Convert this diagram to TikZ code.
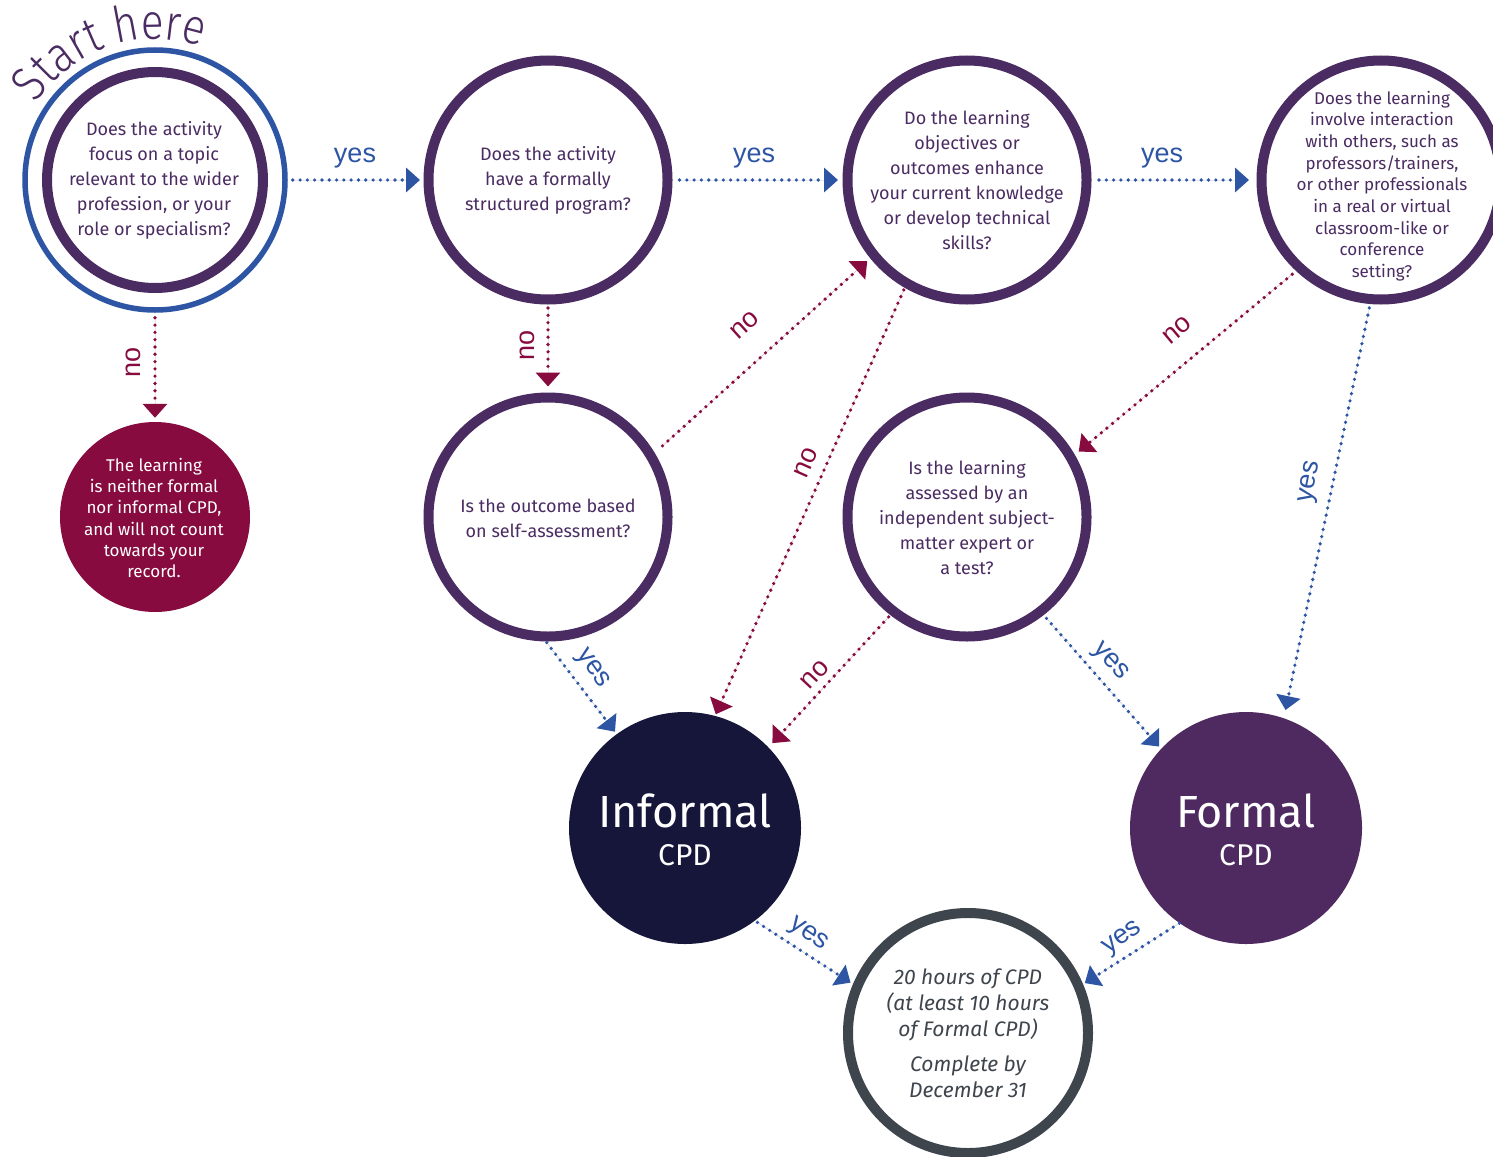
\documentclass[tikz,border=0pt]{standalone}
\usepackage{fontspec}
\setmainfont{Fira Sans}
\newfontfamily\lblfont{Liberation Sans}
\newfontfamily\shfont{Fira Sans Light}[FakeStretch=0.85]
\usetikzlibrary{arrows.meta,decorations.text}
\definecolor{ringc}{HTML}{4B2C62}
\definecolor{bluec}{HTML}{2D55A4}
\definecolor{magc}{HTML}{870B3F}
\definecolor{navyc}{HTML}{15163A}
\definecolor{formc}{HTML}{4E2A61}
\definecolor{grayc}{HTML}{3E454D}
\newcommand\shsize{\shfont\fontsize{50}{50}\selectfont}
\tikzset{
  qc/.style={circle, draw=ringc, line width=10pt, minimum size=239pt, inner sep=0pt},
  qt/.style={text=ringc, align=center, inner sep=0pt, font=\fontsize{18}{25}\selectfont},
  conn/.style={line width=3.6pt, line cap=round, dash pattern=on 0pt off 7.3pt,
               -{Triangle[length=14pt,width=24pt]}},
  yesc/.style={conn, draw=bluec, fill=bluec},
  noc/.style={conn, draw=magc, fill=magc},
  yesl/.style={text=bluec, font=\lblfont\fontsize{27}{27}\selectfont, inner sep=0pt},
  nol/.style={yesl, text=magc},
  bigt/.style={text=white, inner sep=0pt, font=\fontsize{45}{45}\selectfont},
  cpdt/.style={text=white, inner sep=0pt, font=\fontsize{30}{30}\selectfont},
}
\begin{document}
\begin{tikzpicture}[x=1pt,y=-1pt]
\useasboundingbox (0,0) rectangle (1493,1156);
\fill[white] (0,0) rectangle (1493,1156);

% question circles
\node[circle, draw=bluec, line width=5.5pt, minimum size=260pt, inner sep=0pt] (A) at (155,180) {};
\node[qc, minimum size=216pt] (Ain) at (155,180) {};
\node[qc] (B) at (548,180) {};
\node[qc] (C) at (967,180) {};
\node[qc] (D) at (1381,180) {};
\node[qc] (E) at (548,517) {};
\node[qc] (F) at (967,517) {};
\node[circle, fill=magc, minimum size=190pt, inner sep=0pt] (G) at (155,517) {};
\node[circle, fill=navyc, minimum size=232pt, inner sep=0pt] (Inf) at (685,828) {};
\node[circle, fill=formc, minimum size=232pt, inner sep=0pt] (For) at (1246,828) {};
\node[circle, draw=grayc, line width=10pt, minimum size=240pt, inner sep=0pt] (Fin) at (968,1033) {};

% texts
\node[qt] (At) at (154,180) {Does the activity\\focus on a topic\\relevant to the wider\\profession, or your\\role or specialism?};
\node[qt] (Bt) at (548,180) {Does the activity\\have a formally\\structured program?};
\node[qt] (Ct) at (967,180) {Do the learning\\objectives or\\outcomes enhance\\your current knowledge\\or develop technical\\skills?};
\node[qt, font=\fontsize{17}{21.7}\selectfont] (Dt) at (1382,186) {Does the learning\\involve interaction\\with others, such as\\professors/trainers,\\or other professionals\\in a real or virtual\\classroom-like or\\conference\\setting?};
\node[qt] (Et) at (548,518) {Is the outcome based\\on self-assessment?};
\node[qt] (Ft) at (967,518) {Is the learning\\assessed by an\\independent subject-\\matter expert or\\a test?};
\node[qt, text=white, font=\fontsize{17}{21.2}\selectfont] (Gt) at (154,518) {The learning\\is neither formal\\nor informal CPD,\\and will not count\\towards your\\record.};
\node[bigt] (InfT1) at (685,811) {Informal};
\node[cpdt] (InfT2) at (685,855) {CPD};
\node[bigt] (ForT1) at (1246,811) {Formal};
\node[cpdt] (ForT2) at (1246,855) {CPD};
\node[qt, text=grayc, font=\itshape\fontsize{21}{26}\selectfont] (FinT) at (968,1033) {20 hours of CPD\\(at least 10 hours\\of Formal CPD)\\[9pt]Complete by\\December 31};

% Start here
\path[decorate, decoration={text along path, text={|\shsize|Start here}, text align=center, text color=ringc}]
  (20.2,138.8) arc[start angle=163, end angle=55, radius=141pt];

% connectors
\draw[yesc, shorten <=5pt, shorten >=3.5pt] (A.0) -- (B.180);
\draw[yesc, shorten <=7pt, shorten >=4.5pt] (B.0) -- (C.180);
\draw[yesc, shorten <=7.5pt, shorten >=7.5pt] (C.0) -- (D.180);
\draw[noc, shorten <=5pt, shorten >=4pt] (A.270) -- (G.90);
\draw[noc, shorten <=3.5pt, shorten >=6pt] (B.270) -- (E.90);
\draw[noc, shorten <=10.5pt, shorten >=4pt] (E.31.7) -- (C.219.6);
\draw[noc, shorten <=2.3pt, shorten >=1.6pt] (C.240.2) -- (Inf.75.7);
\draw[noc, shorten <=5pt, shorten >=5pt] (D.227.2) -- (F.30.1);
\draw[yesc, shorten <=4pt, shorten >=8.3pt] (D.265.1) -- (For.71.7);
\draw[yesc, shorten <=1.5pt, shorten >=2.8pt] (E.269) -- (Inf.126.1);
\draw[noc, shorten <=2.5pt, shorten >=5.6pt] (F.232.7) -- (Inf.44.3);
\draw[yesc, shorten <=4.3pt, shorten >=2.9pt] (F.308.4) -- (For.137);
\draw[yesc, shorten <=3pt, shorten >=2.8pt] (Inf.307.2) -- (Fin.157.4);
\draw[yesc, shorten <=0pt, shorten >=2pt] (For.235.2) -- (Fin.23.1);

% labels
\node[yesl] (l1) at (355,158) {yes};
\node[yesl] (l2) at (754,158) {yes};
\node[yesl] (l3) at (1162,158) {yes};
\node[nol, rotate=90] (l4) at (133,362) {no};
\node[nol, rotate=90] (l5) at (527,345) {no};
\node[nol, rotate=42] (l6) at (745,325) {no};
\node[nol, rotate=66] (l7) at (806,463) {no};
\node[nol, rotate=40] (l8) at (1177,330) {no};
\node[yesl, rotate=79] (l9) at (1311,482) {yes};
\node[yesl, rotate=-55] (l10) at (592,669) {yes};
\node[nol, rotate=47] (l11) at (815,675) {no};
\node[yesl, rotate=-48] (l12) at (1110,662) {yes};
\node[yesl, rotate=-35] (l13) at (808,935) {yes};
\node[yesl, rotate=35] (l14) at (1123,939) {yes};
\end{tikzpicture}
\end{document}
